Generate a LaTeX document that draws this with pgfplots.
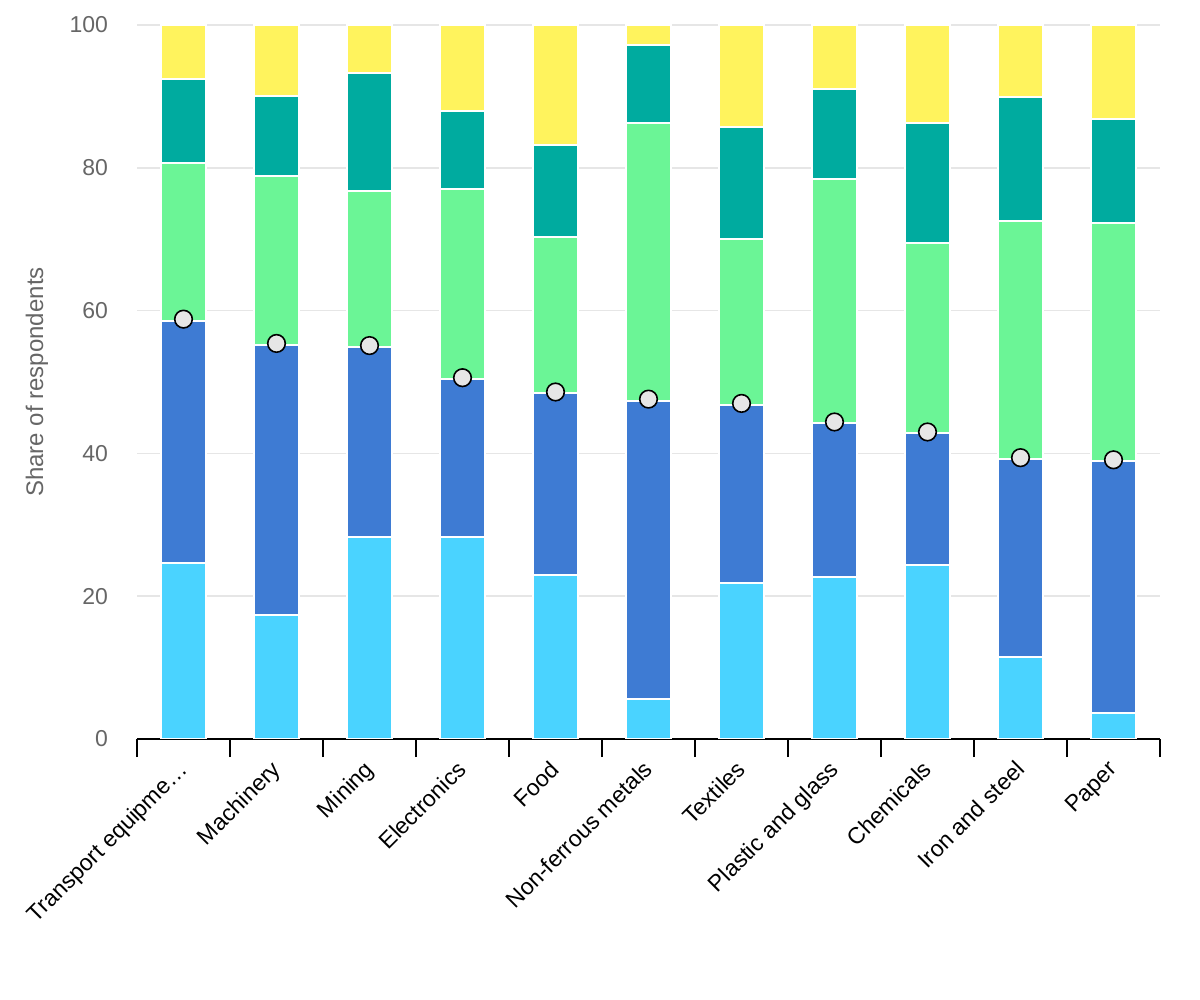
\documentclass[border=0pt]{standalone}
\usepackage{pgfplots}
\pgfplotsset{compat=1.18}
\usepackage{pgfplotstable}
\usepackage{fontspec}
\setmainfont{Liberation Sans}

\definecolor{segA}{HTML}{4AD3FF}
\definecolor{segB}{HTML}{3E7BD3}
\definecolor{segC}{HTML}{6BF596}
\definecolor{segD}{HTML}{00AB9F}
\definecolor{segE}{HTML}{FFF35D}
\definecolor{dotfill}{HTML}{E6E6E6}
\definecolor{gridgray}{HTML}{E6E6E6}
\definecolor{labelgray}{HTML}{666666}

% shares per sector (stacked segments) and marker value
\pgfplotstableread{
x a b c d e dot
0 24.7 33.8 22.2 11.8 7.5 58.8
1 17.4 37.8 23.6 11.2 10.0 55.4
2 28.3 26.6 21.9 16.5 6.7 55.1
3 28.3 22.1 26.6 11.0 12.0 50.6
4 23.0 25.5 21.8 12.9 16.8 48.6
5 5.6 41.7 39.0 10.9 2.8 47.6
6 21.9 24.9 23.2 15.7 14.3 47.0
7 22.7 21.6 34.1 12.6 9.0 44.4
8 24.4 18.5 26.6 16.8 13.7 43.0
9 11.5 27.7 33.3 17.4 10.1 39.4
10 3.6 35.3 33.4 14.6 13.1 39.1
}\shares

\pgfplotsset{
  common/.style={
    at={(0,0)}, anchor=south west,
    scale only axis, width=511.5pt, height=357pt,
    xmin=-0.5, xmax=10.5, ymin=0, ymax=100,
  }
}

\begin{document}
\begin{tikzpicture}
\useasboundingbox (-68.5pt,-130.5pt) rectangle (531.5pt,369.5pt);
\begin{axis}[
  common,
  ybar stacked,
  bar width=0.49,
  font=\fontsize{11.5pt}{13pt}\selectfont,
  /pgf/number format/assume math mode=true,
  axis x line*=bottom,
  axis y line*=left,
  y axis line style={draw=none},
  x axis line style={black, line width=0.8pt},
  ytick={0,20,...,100},
  ytick style={draw=none},
  ymajorgrids,
  grid style={gridgray, line width=0.75pt},
  yticklabel style={labelgray, anchor=east, xshift=-11pt},
  xtick={0,...,10},
  major tick length=0pt,
  minor xtick={-0.5,0.5,...,10.5},
  minor x tick style={black, line width=0.8pt},
  minor tick length=9pt,
  tick align=outside,
  xticklabels={Transport equipme…,Machinery,Mining,Electronics,Food,Non-ferrous metals,Textiles,Plastic and glass,Chemicals,Iron and steel,Paper},
  xticklabel style={black, rotate=45, anchor=north east, inner sep=0pt, xshift=-9.3pt, yshift=-4.7pt},
  ylabel={Share of respondents},
  every axis y label/.style={at={(axis description cs:-0.0978,0.5)}, rotate=90, anchor=center,
    text=labelgray, font=\fontsize{12pt}{14pt}\selectfont},
  every axis plot/.append style={draw=white, line width=1pt},
]
\addplot[fill=segA, draw=white] table[x=x, y=a] {\shares};
\addplot[fill=segB, draw=white] table[x=x, y=b] {\shares};
\addplot[fill=segC, draw=white] table[x=x, y=c] {\shares};
\addplot[fill=segD, draw=white] table[x=x, y=d] {\shares};
\addplot[fill=segE, draw=white] table[x=x, y=e] {\shares};
\end{axis}
\begin{axis}[
  common,
  axis lines=none,
  clip=false,
]
\addplot[only marks, mark=*, mark size=4.4pt,
  mark options={fill=dotfill, draw=black, line width=0.8pt}]
  table[x=x, y=dot] {\shares};
\end{axis}
\end{tikzpicture}
\end{document}
